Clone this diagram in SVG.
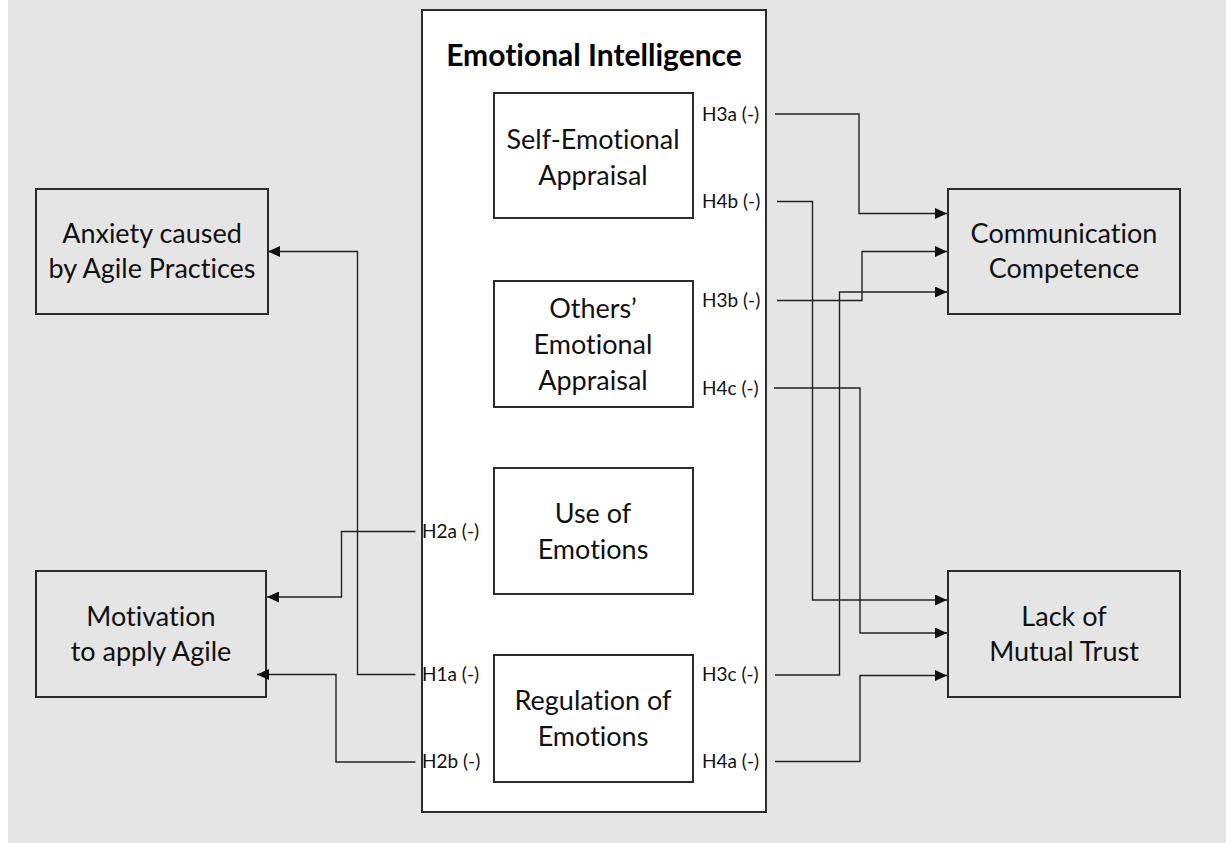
<svg xmlns="http://www.w3.org/2000/svg" width="1226" height="843" viewBox="0 0 1226 843">
  <style>
    text { font-variant-ligatures: none; }
    .box { fill: none; stroke: #2b2b2b; stroke-width: 2; }
    .inner { fill: #ffffff; stroke: #2b2b2b; stroke-width: 2; }
    .txt { font-family: Lato, "Liberation Sans", sans-serif; font-size: 27px; fill: #111; text-anchor: middle; }
    .title { font-family: Lato, "Liberation Sans", sans-serif; font-size: 30px; font-weight: bold; fill: #000; text-anchor: middle; }
    .lbl { font-family: Lato, "Liberation Sans", sans-serif; font-size: 19px; fill: #111; }
    .conn { fill: none; stroke: #222; stroke-width: 1.4; marker-end: url(#arrow); }
  </style>
  <defs>
    <marker id="arrow" markerUnits="userSpaceOnUse" markerWidth="12" markerHeight="11" refX="12" refY="5.5" orient="auto">
      <path d="M0,0 L12,5.5 L0,11 z" fill="#111"/>
    </marker>
  </defs>

  <!-- canvas -->
  <rect x="0" y="0" width="1226" height="843" fill="#ffffff"/>
  <rect x="8" y="0" width="1218" height="843" fill="#e5e5e5"/>

  <!-- Emotional Intelligence container -->
  <g id="emotional-intelligence">
    <rect class="inner" x="422" y="10" width="344" height="802"/>
    <text class="title" x="594" y="66">Emotional Intelligence</text>
  </g>

  <g id="self-emotional-appraisal">
    <rect class="inner" x="494" y="93" width="199" height="125"/>
    <text class="txt" x="593" y="149">Self-Emotional</text>
    <text class="txt" x="593" y="185">Appraisal</text>
  </g>

  <g id="others-emotional-appraisal">
    <rect class="inner" x="494" y="281" width="199" height="126"/>
    <text class="txt" x="593" y="318">Others’</text>
    <text class="txt" x="593" y="354">Emotional</text>
    <text class="txt" x="593" y="390">Appraisal</text>
  </g>

  <g id="use-of-emotions">
    <rect class="inner" x="494" y="468" width="199" height="126"/>
    <text class="txt" x="593" y="523">Use of</text>
    <text class="txt" x="593" y="559">Emotions</text>
  </g>

  <g id="regulation-of-emotions">
    <rect class="inner" x="494" y="655" width="199" height="127"/>
    <text class="txt" x="593" y="710">Regulation of</text>
    <text class="txt" x="593" y="746">Emotions</text>
  </g>

  <!-- outcome constructs -->
  <g id="anxiety">
    <rect class="box" x="36" y="189" width="232" height="125"/>
    <text class="txt" x="152" y="243">Anxiety caused</text>
    <text class="txt" x="152" y="278">by Agile Practices</text>
  </g>

  <g id="motivation">
    <rect class="box" x="36" y="571" width="230" height="126"/>
    <text class="txt" x="151" y="626">Motivation</text>
    <text class="txt" x="151" y="661">to apply Agile</text>
  </g>

  <g id="communication-competence">
    <rect class="box" x="948" y="189" width="232" height="125"/>
    <text class="txt" x="1064" y="243">Communication</text>
    <text class="txt" x="1064" y="278">Competence</text>
  </g>

  <g id="lack-of-mutual-trust">
    <rect class="box" x="948" y="571" width="232" height="126"/>
    <text class="txt" x="1064" y="626">Lack of</text>
    <text class="txt" x="1064" y="661">Mutual Trust</text>
  </g>

  <!-- hypothesis labels -->
  <g id="labels">
    <text class="lbl" x="702" y="121">H3a (-)</text>
    <text class="lbl" x="702" y="208">H4b (-)</text>
    <text class="lbl" x="702" y="307">H3b (-)</text>
    <text class="lbl" x="702" y="395">H4c (-)</text>
    <text class="lbl" x="702" y="681">H3c (-)</text>
    <text class="lbl" x="702" y="768">H4a (-)</text>
    <text class="lbl" x="422" y="538">H2a (-)</text>
    <text class="lbl" x="422" y="681">H1a (-)</text>
    <text class="lbl" x="422" y="768">H2b (-)</text>
  </g>

  <!-- hypothesis paths -->
  <g id="connectors">
    <path class="conn" d="M775,114 H859 V213.5 H947"/>
    <path class="conn" d="M777,201.5 H812.5 V600 H947"/>
    <path class="conn" d="M777,300.5 H862 V251.5 H947"/>
    <path class="conn" d="M775,675 H839.5 V292 H947"/>
    <path class="conn" d="M774,388 H860 V633 H947"/>
    <path class="conn" d="M775,761.5 H860 V675.5 H947"/>
    <path class="conn" d="M415.5,531.5 H341.5 V597 H267"/>
    <path class="conn" d="M415.5,674.5 H357.5 V251.5 H268"/>
    <path class="conn" d="M415.5,762 H336 V674.5 H257"/>
  </g>
</svg>
